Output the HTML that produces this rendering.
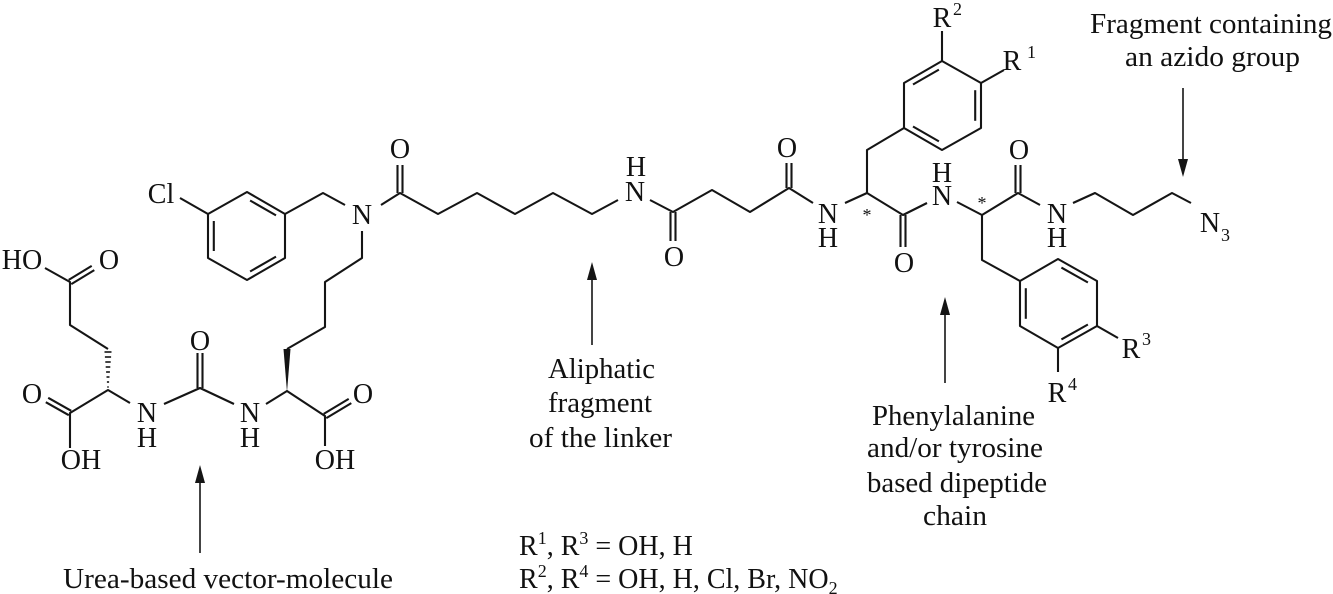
<!DOCTYPE html>
<html>
<head>
<meta charset="utf-8">
<style>
  html,body{margin:0;padding:0;background:#fff;}
  svg{display:block;}
  text{font-family:"Liberation Serif","Times New Roman",serif;fill:#111;}
  .a{font-size:28px;text-anchor:middle;}
  .l{font-size:28px;}
  .s{font-size:18px;}
</style>
</head>
<body>
<svg width="1333" height="594" viewBox="0 0 1333 594" xmlns="http://www.w3.org/2000/svg">
<g fill="none" stroke="#151515" stroke-width="2.1" stroke-linejoin="round">
  <!-- Glu side chain -->
  <polyline points="45,268 70,282 70,325 108,349"/>
  <line x1="68.7" y1="279.9" x2="91.7" y2="265.9"/>
  <line x1="71.3" y1="284.1" x2="94.3" y2="270.1"/>
  <!-- Glu alpha -->
  <polyline points="70,448 70,413 108,390 130,403"/>
  <line x1="71.2" y1="410.8" x2="48.2" y2="397.8"/>
  <line x1="68.8" y1="415.2" x2="45.8" y2="402.2"/>
  <!-- Urea -->
  <polyline points="164,404 200,388 234,404"/>
  <line x1="197.5" y1="388" x2="197.5" y2="353"/>
  <line x1="202.5" y1="388" x2="202.5" y2="353"/>
  <!-- Lys -->
  <polyline points="266,404 287,391 325,416 325,446"/>
  <line x1="323.7" y1="413.9" x2="348.7" y2="398.9"/>
  <line x1="326.3" y1="418.1" x2="351.3" y2="403.1"/>
  <polyline points="287,349 325,327 325,282 362,258 362,231"/>
  <!-- N benzyl -->
  <polyline points="345,205 323,193 285,214"/>
  <polygon points="285,214 247,192 208,214 208,258 247,280 285,258"/>
  <line x1="276" y1="215.4" x2="250.1" y2="200.5"/>
  <line x1="213.8" y1="221" x2="213.8" y2="251"/>
  <line x1="250.1" y1="271.5" x2="276" y2="256.6"/>
  <line x1="180" y1="198" x2="208" y2="214"/>
  <!-- linker -->
  <polyline points="381,205 400,193 438,214 477,193 515,214 553,193 592,214 618,200"/>
  <line x1="397.5" y1="193" x2="397.5" y2="165"/>
  <line x1="402.5" y1="193" x2="402.5" y2="165"/>
  <polyline points="650,200 673,212 712,190 750,212 789,188 813,203"/>
  <line x1="670.5" y1="212" x2="670.5" y2="241"/>
  <line x1="675.5" y1="212" x2="675.5" y2="241"/>
  <line x1="786.5" y1="188" x2="786.5" y2="163"/>
  <line x1="791.5" y1="188" x2="791.5" y2="163"/>
  <!-- Phe 1 -->
  <polyline points="845,203 867,193 903,215 927,203"/>
  <polyline points="867,193 867,150 904,128"/>
  <line x1="900.5" y1="215" x2="900.5" y2="247"/>
  <line x1="905.5" y1="215" x2="905.5" y2="247"/>
  <polygon points="904,128 904,83 942,61 981,83 981,128 942,150"/>
  <line x1="913" y1="84.5" x2="938.9" y2="69.6"/>
  <line x1="975.2" y1="90.2" x2="975.2" y2="120.8"/>
  <line x1="938.9" y1="141.4" x2="913" y2="126.5"/>
  <line x1="942" y1="61" x2="942" y2="31"/>
  <line x1="981" y1="83" x2="1004" y2="70"/>
  <!-- Phe 2 -->
  <polyline points="957,202 982,215 1018,193 1040,205"/>
  <line x1="1015.5" y1="193" x2="1015.5" y2="165"/>
  <line x1="1020.5" y1="193" x2="1020.5" y2="165"/>
  <polyline points="1073,203 1095,193 1133,215 1172,193 1191,203"/>
  <polyline points="982,215 982,260 1020,281"/>
  <polygon points="1020,281 1058,259 1097,281 1097,326 1058,348 1020,326"/>
  <line x1="1061.4" y1="267.6" x2="1087.9" y2="282.5"/>
  <line x1="1087.9" y1="324.5" x2="1061.4" y2="339.4"/>
  <line x1="1025.8" y1="318.8" x2="1025.8" y2="288.2"/>
  <line x1="1097" y1="326" x2="1118" y2="338"/>
  <line x1="1058" y1="348" x2="1058" y2="372"/>
</g>
<!-- stereo bonds -->
<polygon points="287,392 283.5,349 290.5,349" fill="#151515"/>
<g stroke="#151515" stroke-width="1.6">
  <line x1="104.5" y1="352" x2="111.5" y2="352"/>
  <line x1="104.9" y1="357" x2="111.1" y2="357"/>
  <line x1="105.3" y1="362" x2="110.7" y2="362"/>
  <line x1="105.7" y1="367" x2="110.3" y2="367"/>
  <line x1="106.1" y1="372" x2="109.9" y2="372"/>
  <line x1="106.5" y1="377" x2="109.5" y2="377"/>
  <line x1="106.9" y1="382" x2="109.1" y2="382"/>
  <line x1="107.3" y1="387" x2="108.7" y2="387"/>
</g>
<!-- arrows -->
<g stroke="#151515" stroke-width="1.6">
  <line x1="200" y1="553" x2="200" y2="478"/>
  <line x1="592" y1="345" x2="592" y2="275"/>
  <line x1="945" y1="383" x2="945" y2="310"/>
  <line x1="1183" y1="88" x2="1183" y2="164"/>
</g>
<g fill="#151515">
  <polygon points="200,465 195,483 205,483"/>
  <polygon points="592,262 587,280 597,280"/>
  <polygon points="945,297 940,315 950,315"/>
  <polygon points="1183,177 1178,159 1188,159"/>
</g>
<!-- atom labels -->
<text class="a" x="161" y="203">Cl</text>
<text class="a" x="362" y="224">N</text>
<text class="a" x="400" y="158">O</text>
<text class="a" x="22" y="269">HO</text>
<text class="a" x="109" y="269">O</text>
<text class="a" x="32" y="403">O</text>
<text class="a" x="81" y="469">OH</text>
<text class="a" x="147" y="422">N</text>
<text class="a" x="147" y="447">H</text>
<text class="a" x="200" y="350">O</text>
<text class="a" x="250" y="422">N</text>
<text class="a" x="250" y="447">H</text>
<text class="a" x="363" y="403">O</text>
<text class="a" x="335" y="469">OH</text>
<text class="a" x="636" y="176">H</text>
<text class="a" x="635" y="201">N</text>
<text class="a" x="674" y="266">O</text>
<text class="a" x="787" y="157">O</text>
<text class="a" x="828" y="223">N</text>
<text class="a" x="828" y="247">H</text>
<text class="a" x="904" y="272">O</text>
<text class="a" x="942" y="182">H</text>
<text class="a" x="942" y="205">N</text>
<text class="a" x="1019" y="159">O</text>
<text class="a" x="1057" y="223">N</text>
<text class="a" x="1057" y="247">H</text>
<text class="a" x="1210" y="232">N</text>
<text class="s" x="1221" y="241">3</text>
<text class="s" x="867" y="221" text-anchor="middle">*</text>
<text class="s" x="982" y="209" text-anchor="middle">*</text>
<text class="a" x="942" y="27">R</text>
<text class="s" x="953" y="15">2</text>
<text class="a" x="1012" y="70">R</text>
<text class="s" x="1027" y="58">1</text>
<text class="a" x="1131" y="358">R</text>
<text class="s" x="1142" y="345">3</text>
<text class="a" x="1057" y="402">R</text>
<text class="s" x="1068" y="390">4</text>
<!-- annotation labels -->
<text class="l" x="63" y="588" textLength="330" lengthAdjust="spacingAndGlyphs">Urea-based vector-molecule</text>
<text class="l" x="548" y="378" textLength="107" lengthAdjust="spacingAndGlyphs">Aliphatic</text>
<text class="l" x="548" y="412" textLength="104" lengthAdjust="spacingAndGlyphs">fragment</text>
<text class="l" x="529" y="447" textLength="143" lengthAdjust="spacingAndGlyphs">of the linker</text>
<text class="l" x="872" y="425" textLength="163" lengthAdjust="spacingAndGlyphs">Phenylalanine</text>
<text class="l" x="867" y="457" textLength="176" lengthAdjust="spacingAndGlyphs">and/or tyrosine</text>
<text class="l" x="867" y="492" textLength="180" lengthAdjust="spacingAndGlyphs">based dipeptide</text>
<text class="l" x="923" y="525" textLength="64" lengthAdjust="spacingAndGlyphs">chain</text>
<text class="l" x="1090" y="33" textLength="242" lengthAdjust="spacingAndGlyphs">Fragment containing</text>
<text class="l" x="1125" y="66" textLength="175" lengthAdjust="spacingAndGlyphs">an azido group</text>
<!-- legend -->
<text class="l" x="519" y="555">R<tspan class="s" dy="-11">1</tspan><tspan dy="11">, R</tspan><tspan class="s" dy="-11">3</tspan><tspan dy="11"> = OH, H</tspan></text>
<text class="l" x="519" y="588">R<tspan class="s" dy="-11">2</tspan><tspan dy="11">, R</tspan><tspan class="s" dy="-11">4</tspan><tspan dy="11"> = OH, H, Cl, Br, NO</tspan><tspan class="s" dy="6">2</tspan></text>
</svg>
</body>
</html>
